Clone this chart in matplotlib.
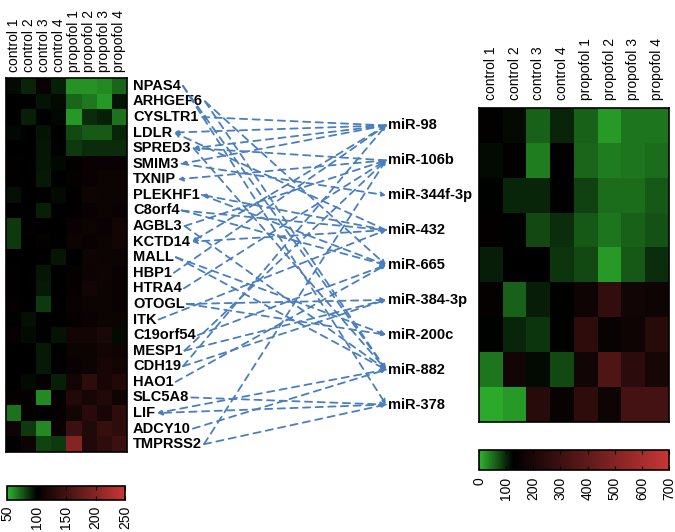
import numpy as np
import matplotlib
matplotlib.use("Agg")
import matplotlib.pyplot as plt
from matplotlib.colors import LinearSegmentedColormap
from matplotlib.patches import FancyArrowPatch

plt.rcParams['font.family'] = ['Liberation Sans', 'DejaVu Sans']

samples = ["control 1", "control 2", "control 3", "control 4",
           "propofol 1", "propofol 2", "propofol 3", "propofol 4"]

genes = ["NPAS4", "ARHGEF6", "CYSLTR1", "LDLR", "SPRED3", "SMIM3", "TXNIP",
         "PLEKHF1", "C8orf4", "AGBL3", "KCTD14", "MALL", "HBP1", "HTRA4",
         "OTOGL", "ITK", "C19orf54", "MESP1", "CDH19", "HAO1", "SLC5A8",
         "LIF", "ADCY10", "TMPRSS2"]

gene_values = [
    [97, 90, 108, 92, 60, 60, 62, 72],
    [100, 100, 95, 97, 72, 67, 58, 95],
    [100, 92, 100, 98, 58, 88, 92, 68],
    [98, 100, 95, 100, 80, 75, 75, 90],
    [100, 100, 94, 100, 85, 88, 88, 88],
    [103, 100, 94, 98, 102, 108, 108, 108],
    [102, 100, 93, 100, 105, 108, 110, 110],
    [96, 100, 102, 97, 103, 112, 110, 110],
    [100, 100, 92, 100, 102, 108, 110, 108],
    [85, 102, 100, 100, 108, 110, 108, 115],
    [85, 100, 104, 100, 110, 108, 110, 115],
    [100, 100, 100, 94, 100, 112, 110, 110],
    [102, 100, 94, 100, 105, 110, 112, 108],
    [102, 100, 93, 100, 105, 115, 110, 108],
    [104, 100, 85, 100, 108, 110, 110, 108],
    [100, 96, 100, 100, 105, 108, 110, 110],
    [104, 97, 100, 95, 115, 115, 120, 97],
    [100, 100, 93, 100, 110, 110, 115, 112],
    [100, 100, 93, 102, 108, 110, 118, 115],
    [100, 97, 105, 92, 115, 135, 118, 125],
    [105, 105, 62, 105, 125, 118, 125, 112],
    [68, 105, 100, 105, 115, 130, 118, 135],
    [112, 85, 62, 108, 145, 125, 140, 135],
    [102, 110, 82, 85, 200, 125, 135, 145],
]

mirnas = ["miR-98", "miR-106b", "miR-344f-3p", "miR-432", "miR-665",
          "miR-384-3p", "miR-200c", "miR-882", "miR-378"]

mirna_values = [
    [135, 120, 60, 100, 60, 20, 45, 45],
    [120, 135, 40, 130, 55, 40, 45, 50],
    [125, 100, 100, 125, 80, 50, 50, 65],
    [135, 125, 75, 95, 65, 45, 60, 70],
    [105, 130, 130, 90, 75, 20, 65, 95],
    [140, 60, 105, 125, 170, 270, 180, 170],
    [125, 100, 90, 125, 260, 150, 170, 240],
    [45, 180, 120, 75, 180, 350, 250, 190],
    [10, 20, 240, 150, 260, 170, 320, 320],
]

gene_ticks = [50, 100, 150, 200, 250]
mirna_ticks = [0, 100, 200, 300, 400, 500, 600, 700]

# (gene, miRNA, arrow at gene end)
edges = [
    ("NPAS4", "miR-378", False), ("NPAS4", "miR-882", False),
    ("ARHGEF6", "miR-882", False), ("ARHGEF6", "miR-665", False),
    ("CYSLTR1", "miR-98", True),
    ("LDLR", "miR-98", True), ("LDLR", "miR-432", True),
    ("SPRED3", "miR-98", True), ("SPRED3", "miR-106b", True), ("SPRED3", "miR-882", False),
    ("SMIM3", "miR-98", True), ("SMIM3", "miR-344f-3p", False),
    ("TXNIP", "miR-106b", True),
    ("PLEKHF1", "miR-665", False), ("PLEKHF1", "miR-432", True),
    ("C8orf4", "miR-432", False), ("C8orf4", "miR-665", False),
    ("AGBL3", "miR-882", False), ("AGBL3", "miR-106b", False),
    ("KCTD14", "miR-432", True), ("KCTD14", "miR-98", True),
    ("MALL", "miR-200c", False), ("MALL", "miR-882", False),
    ("HBP1", "miR-98", False),
    ("HTRA4", "miR-106b", False),
    ("OTOGL", "miR-200c", False), ("OTOGL", "miR-384-3p", False),
    ("ITK", "miR-432", False),
    ("C19orf54", "miR-665", False),
    ("MESP1", "miR-384-3p", False), ("MESP1", "miR-106b", False),
    ("CDH19", "miR-384-3p", False), ("CDH19", "miR-98", False),
    ("HAO1", "miR-665", False),
    ("SLC5A8", "miR-378", False),
    ("LIF", "miR-882", True), ("LIF", "miR-378", True),
    ("ADCY10", "miR-882", False),
    ("TMPRSS2", "miR-106b", False), ("TMPRSS2", "miR-378", False),
]

green = "#2eb52e"
red = "#c83636"
cmap_g = LinearSegmentedColormap.from_list("g", [(0, green), (0.25, "black"), (1, red)])
cmap_m = LinearSegmentedColormap.from_list("m", [(0, green), (125 / 700, "black"), (1, red)])

W, H = 675, 532
fig = plt.figure(figsize=(W / 100, H / 100), dpi=100)


def box(x0, y0, x1, y1):
    return [x0 / W, 1 - y1 / H, (x1 - x0) / W, (y1 - y0) / H]


axL = fig.add_axes(box(6, 78, 127, 452))
imL = axL.imshow(np.array(gene_values), cmap=cmap_g, vmin=50, vmax=250, aspect='auto',
                 interpolation='nearest')
axL.xaxis.tick_top()
axL.set_xticks(range(len(samples)))
axL.set_xticklabels(samples, rotation=90, fontsize=10)
axL.set_yticks([])
axL.tick_params(length=0, pad=4)
for s in axL.spines.values():
    s.set_linewidth(1.2)

gene_texts = []
for i, g in enumerate(genes):
    t = axL.text(1.0 + 6 / 121, i, g, transform=axL.get_yaxis_transform(), ha='left',
                 va='center', fontsize=10.5, fontweight='bold')
    gene_texts.append(t)

axR = fig.add_axes(box(479, 108, 669, 422))
imR = axR.imshow(np.array(mirna_values), cmap=cmap_m, vmin=0, vmax=700, aspect='auto',
                 interpolation='nearest')
axR.xaxis.tick_top()
axR.set_xticks(range(len(samples)))
axR.set_xticklabels(samples, rotation=90, fontsize=10)
axR.set_yticks([])
axR.tick_params(length=0, pad=6)
for s in axR.spines.values():
    s.set_linewidth(1.2)

mirna_x = -91 / 190
for i, m in enumerate(mirnas):
    axR.text(mirna_x, i, m, transform=axR.get_yaxis_transform(), ha='left', va='center',
             fontsize=10.5, fontweight='bold')

caxL = fig.add_axes(box(7, 486, 125, 500))
cbL = fig.colorbar(imL, cax=caxL, orientation='horizontal', ticks=gene_ticks)
caxL.tick_params(direction='in', length=3, top=True, bottom=True, labelsize=10,
                 labelrotation=90, pad=4)
cbL.outline.set_linewidth(1.2)

caxR = fig.add_axes(box(479, 450, 669, 470))
cbR = fig.colorbar(imR, cax=caxR, orientation='horizontal', ticks=mirna_ticks)
caxR.tick_params(direction='in', length=3, top=True, bottom=True, labelsize=10,
                 labelrotation=90, pad=5)
cbR.outline.set_linewidth(1.2)

# connection lines
fig.canvas.draw()
renderer = fig.canvas.get_renderer()
gene_end = {}
for g, t in zip(genes, gene_texts):
    bb = t.get_window_extent(renderer)
    y = axL.transData.transform((0, genes.index(g)))[1]
    gene_end[g] = (bb.x1 + 2, y)
mirna_end = {}
for i, m in enumerate(mirnas):
    x = axR.transAxes.transform((mirna_x, 0))[0] - 2
    y = axR.transData.transform((0, i))[1]
    mirna_end[m] = (x, y)

line_color = "#4a7ebf"
for g, m, to_gene in edges:
    p_g = gene_end[g]
    p_m = mirna_end[m]
    if to_gene:
        a, b = p_m, p_g
    else:
        a, b = p_g, p_m
    arr = FancyArrowPatch(a, b, transform=None, arrowstyle='-|>', mutation_scale=7,
                          color=line_color, linestyle=(0, (4, 3)), linewidth=1.3,
                          shrinkA=0, shrinkB=0)
    fig.add_artist(arr)

fig.savefig("out.png", dpi=100)
